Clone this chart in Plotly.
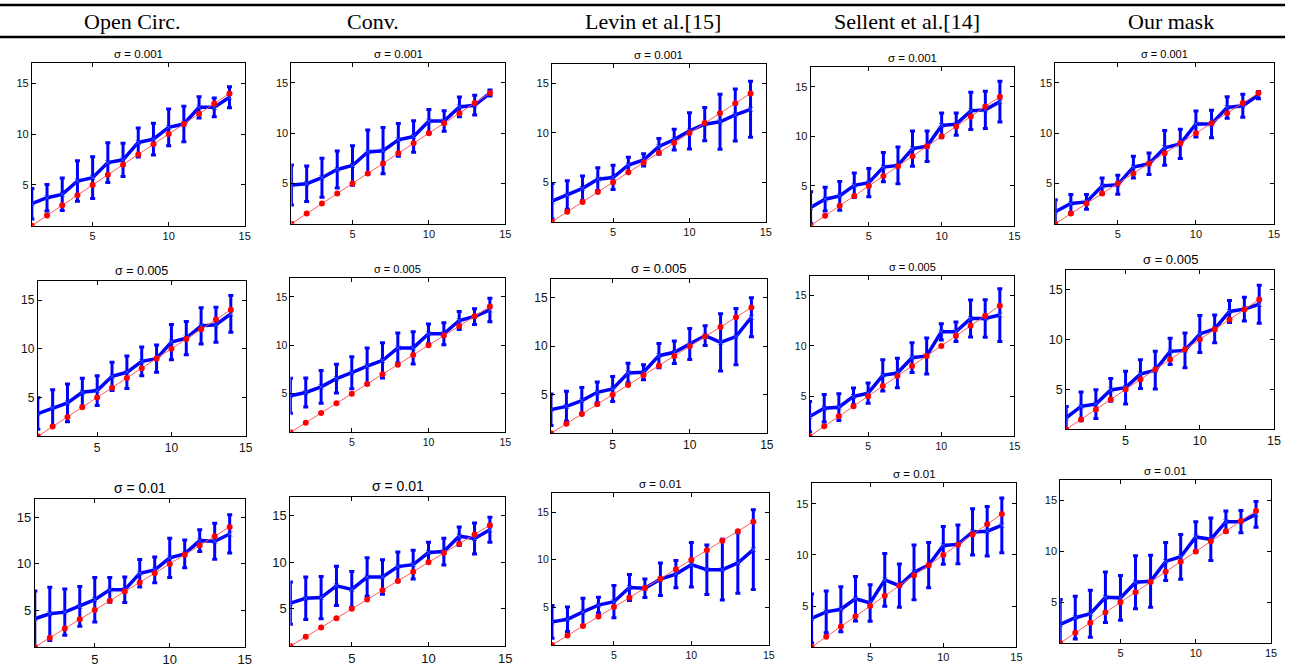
import plotly.graph_objects as go

# ---------------- data ----------------
steps = [1, 2, 3, 4, 5, 6, 7, 8, 9, 10, 11, 12, 13, 14]
truth = [1, 2, 3, 4, 5, 6, 7, 8, 9, 10, 11, 12, 13, 14]

methods = ["Open Circ.", "Conv.", "Levin et al.[15]", "Sellent et al.[14]", "Our mask"]
sigma_labels = ["σ = 0.001", "σ = 0.005", "σ = 0.01"]
x_ticks = [5, 10, 15]
y_ticks = [5, 10, 15]

# sigma = 0.001
oc_001_mean = [3.16, 3.75, 4.08, 5.39, 5.72, 7.2, 7.47, 9.18, 9.5, 10.66, 10.99, 12.63, 12.63, 13.62]
oc_001_std = [1.5, 1.3, 1.6, 2.0, 2.05, 1.95, 1.64, 1.43, 1.56, 1.8, 1.75, 1.05, 0.93, 1.03]
cv_001_mean = [4.85, 4.98, 5.57, 6.39, 6.79, 8.13, 8.26, 9.34, 9.67, 11.21, 11.21, 12.62, 12.79, 14.0]
cv_001_std = [2.0, 1.77, 1.94, 1.85, 1.97, 2.2, 2.3, 1.62, 1.57, 1.15, 1.02, 0.98, 0.98, 0.3]
lv_001_mean = [3.08, 3.7, 4.38, 5.31, 5.48, 6.75, 7.26, 8.63, 9.32, 10.21, 10.89, 11.13, 11.82, 12.4]
lv_001_std = [1.8, 1.45, 1.25, 1.15, 1.23, 0.77, 0.62, 0.8, 1.06, 1.83, 1.68, 2.78, 2.63, 2.85]
sl_001_mean = [2.83, 3.67, 4.0, 5.07, 5.33, 6.9, 7.07, 8.77, 9.0, 11.1, 11.23, 12.57, 12.67, 13.5]
sl_001_std = [1.6, 1.2, 1.45, 1.23, 1.42, 1.47, 1.85, 1.77, 1.53, 1.25, 1.13, 1.87, 1.87, 2.05]
om_001_mean = [2.18, 3.0, 3.17, 4.75, 4.88, 6.63, 6.96, 8.55, 8.94, 10.92, 10.92, 12.57, 12.74, 13.8]
om_001_std = [1.2, 0.9, 0.73, 0.8, 0.94, 1.09, 1.07, 1.73, 1.45, 1.29, 1.37, 1.07, 1.15, 0.36]

# sigma = 0.005
oc_005_mean = [3.34, 3.92, 4.44, 5.53, 5.7, 7.17, 7.58, 8.7, 8.98, 10.68, 11.09, 12.35, 12.46, 13.58]
oc_005_std = [1.62, 1.87, 1.93, 1.43, 1.53, 1.45, 1.67, 1.48, 1.4, 1.8, 1.7, 1.87, 1.8, 1.88]
cv_005_mean = [4.78, 5.12, 5.7, 6.55, 7.17, 7.85, 8.43, 9.73, 9.73, 11.19, 11.19, 12.56, 12.97, 13.65]
cv_005_std = [1.8, 1.5, 1.7, 1.48, 1.65, 1.88, 1.82, 1.55, 1.67, 1.02, 1.14, 0.94, 0.82, 1.22]
lv_005_mean = [3.45, 3.79, 4.38, 5.24, 5.59, 7.24, 7.31, 9.03, 9.38, 10.24, 11.1, 10.41, 11.0, 13.0]
lv_005_std = [1.63, 1.55, 1.35, 1.07, 1.29, 1.0, 0.78, 1.26, 1.17, 1.6, 1.03, 2.96, 2.9, 2.02]
sl_005_mean = [2.97, 3.8, 3.9, 4.97, 5.3, 7.07, 7.3, 8.83, 9.0, 11.4, 11.4, 12.73, 12.73, 13.07]
sl_005_std = [1.5, 1.37, 1.33, 0.83, 1.0, 1.55, 1.47, 1.48, 1.8, 0.8, 0.97, 1.83, 1.87, 2.63]
om_005_mean = [2.15, 3.3, 3.53, 4.95, 5.18, 6.53, 6.93, 8.81, 8.91, 10.56, 11.06, 12.81, 13.04, 13.53]
om_005_std = [1.15, 1.44, 1.44, 1.14, 1.65, 1.45, 1.9, 1.32, 1.73, 1.85, 1.39, 1.1, 1.18, 1.9]

# sigma = 0.01
oc_01_mean = [4.06, 4.6, 4.78, 5.4, 6.12, 7.19, 7.19, 8.99, 9.35, 10.65, 11.08, 12.52, 12.45, 13.24]
oc_01_std = [3.0, 2.88, 2.5, 2.15, 2.42, 1.35, 1.38, 1.5, 1.4, 2.12, 1.5, 1.17, 1.94, 2.07]
cv_01_mean = [5.61, 6.14, 6.21, 7.47, 7.09, 8.42, 8.42, 9.54, 9.75, 11.05, 11.16, 12.81, 12.56, 13.51]
cv_01_std = [2.28, 2.28, 2.28, 2.1, 1.93, 2.07, 1.85, 1.58, 1.55, 1.1, 1.44, 1.0, 1.67, 1.35]
lv_01_mean = [3.44, 3.72, 4.5, 5.21, 5.57, 7.06, 6.99, 7.94, 8.48, 9.47, 8.94, 8.94, 9.65, 11.06]
lv_01_std = [1.73, 1.3, 1.43, 0.83, 1.7, 1.37, 0.98, 1.72, 1.43, 2.35, 2.6, 3.2, 3.2, 4.2]
sl_01_mean = [3.79, 4.44, 4.69, 5.72, 5.31, 7.56, 7.0, 8.3, 9.0, 10.93, 11.03, 12.25, 12.32, 12.89]
sl_01_std = [2.4, 2.04, 2.2, 2.18, 1.78, 2.57, 2.12, 2.68, 2.22, 1.85, 1.9, 2.25, 2.42, 2.68]
om_01_mean = [2.83, 3.49, 3.88, 5.5, 5.44, 6.97, 7.07, 9.02, 9.48, 11.43, 11.2, 12.93, 12.93, 13.65]
om_01_std = [2.45, 2.1, 2.3, 2.48, 2.2, 2.6, 2.55, 1.87, 2.2, 1.5, 2.08, 1.05, 1.1, 1.27]

means = [
    [oc_001_mean, cv_001_mean, lv_001_mean, sl_001_mean, om_001_mean],
    [oc_005_mean, cv_005_mean, lv_005_mean, sl_005_mean, om_005_mean],
    [oc_01_mean, cv_01_mean, lv_01_mean, sl_01_mean, om_01_mean],
]
stds = [
    [oc_001_std, cv_001_std, lv_001_std, sl_001_std, om_001_std],
    [oc_005_std, cv_005_std, lv_005_std, sl_005_std, om_005_std],
    [oc_01_std, cv_01_std, lv_01_std, sl_01_std, om_01_std],
]

# ---------------- layout (pixel boxes: left, right, top, bottom) ----------------
W, H = 1292, 667
boxes = [
    [(32, 246, 63, 226), (293, 508, 63, 224), (555, 770, 64, 222), (815, 1020, 67, 226), (1061, 1281, 63, 224)],
    [(38, 247, 281, 437), (292, 508, 278, 433), (554, 771, 279, 434), (814, 1020, 276, 437), (1072, 1281, 270, 430)],
    [(35, 246, 500, 648), (292, 508, 498, 647), (555, 773, 494, 646), (816, 1022, 484, 648), (1066, 1278, 481, 644)],
]
tick_sizes = [
    [11, 11, 11, 11, 11],
    [12, 10.5, 12, 10.5, 12.5],
    [13, 13, 10.5, 11, 11],
]
title_sizes = [
    [11.5, 11.5, 11.5, 11.5, 11],
    [12.5, 11, 13, 11, 13],
    [14, 14, 11.5, 11.5, 11.5],
]
header_x = [133, 375, 657, 912, 1177]

fig = go.Figure()
annotations = []
shapes = []
font_fam = "Liberation Sans, Arial, sans-serif"

for r in range(3):
    for c in range(5):
        idx = r * 5 + c + 1
        xa = "x" if idx == 1 else f"x{idx}"
        ya = "y" if idx == 1 else f"y{idx}"
        left, right, top, bottom = boxes[r][c]
        fig.add_trace(go.Scatter(
            x=steps, y=means[r][c], xaxis=xa, yaxis=ya, mode="lines+markers",
            line=dict(color="#0000ff", width=3.5),
            marker=dict(symbol="x-thin", size=5, line=dict(color="#3355ff", width=1)),
            error_y=dict(type="data", array=stds[r][c], color="#0000ff", thickness=3, width=2.5),
            showlegend=False, hoverinfo="x+y"))
        fig.add_trace(go.Scatter(
            x=steps, y=truth, xaxis=xa, yaxis=ya, mode="lines+markers",
            line=dict(color="#ff5a5a", width=1),
            marker=dict(color="#ff0000", size=6),
            showlegend=False, hoverinfo="x+y"))
        ts = tick_sizes[r][c]
        axcommon = dict(showline=True, linecolor="black", linewidth=1, mirror="ticks",
                        ticks="inside", ticklen=4, tickcolor="black", showgrid=False,
                        zeroline=False, tickfont=dict(family=font_fam, size=ts, color="#111"))
        xkey = "xaxis" if idx == 1 else f"xaxis{idx}"
        ykey = "yaxis" if idx == 1 else f"yaxis{idx}"
        fig.layout[xkey] = dict(domain=[left / W, right / W], range=[1, 15], tickvals=x_ticks,
                                anchor=ya, **axcommon)
        fig.layout[ykey] = dict(domain=[1 - bottom / H, 1 - top / H], range=[1, 17], tickvals=y_ticks,
                                anchor=xa, **axcommon)
        annotations.append(dict(
            text=sigma_labels[r], xref="paper", yref="paper",
            x=(left + right) / 2 / W, y=1 - top / H, xanchor="center", yanchor="bottom",
            yshift=1, showarrow=False,
            font=dict(family=font_fam, size=title_sizes[r][c], color="black")))

for c in range(5):
    annotations.append(dict(
        text=methods[c], xref="paper", yref="paper", x=header_x[c] / W, y=1 - 22 / H,
        xanchor="center", yanchor="middle", showarrow=False,
        font=dict(family="Liberation Serif, Times New Roman, serif", size=22, color="black")))

shapes.append(dict(type="line", xref="paper", yref="paper", x0=0, x1=1,
                   y0=1 - 37 / H, y1=1 - 37 / H, line=dict(color="black", width=2.5)))
shapes.append(dict(type="line", xref="paper", yref="paper", x0=0, x1=1,
                   y0=1 - 5 / H, y1=1 - 5 / H, line=dict(color="black", width=2.5)))

fig.update_layout(
    width=W, height=H, margin=dict(l=0, r=0, t=0, b=0),
    paper_bgcolor="white", plot_bgcolor="white",
    annotations=annotations, shapes=shapes,
)

fig.write_html("out.html")
